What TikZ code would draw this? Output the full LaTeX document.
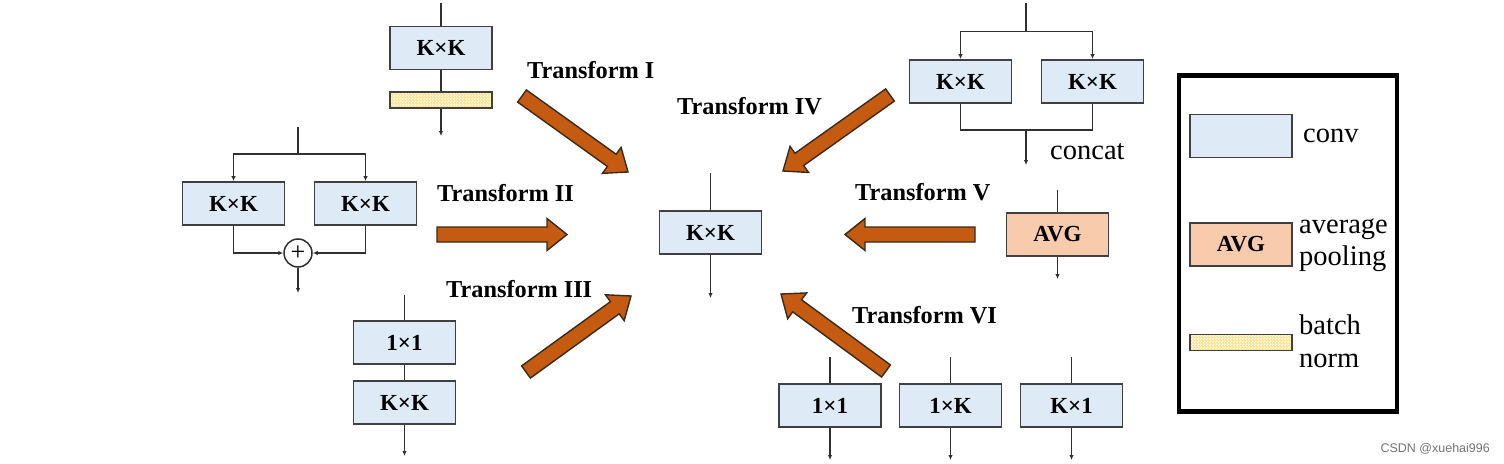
\documentclass[tikz,border=0pt]{standalone}
\usepackage{fontspec}
\setmainfont{Liberation Serif}
\newfontfamily\wmfont{Liberation Sans}
\usetikzlibrary{calc,patterns,arrows.meta}
\definecolor{convfill}{HTML}{DEEBF7}
\definecolor{boxline}{HTML}{404040}
\definecolor{avgfill}{HTML}{F8CBAD}
\definecolor{bnfill}{HTML}{FFE38A}
\definecolor{fatfill}{HTML}{C55A11}
\definecolor{fatline}{HTML}{3A2A1A}
\definecolor{flowline}{HTML}{303030}
\pgfdeclarepatternformonly[\tikzfinecheckcolor]{finecheck}{\pgfpointorigin}{\pgfqpoint{3pt}{3pt}}{\pgfqpoint{3pt}{3pt}}{%
  \pgfpathrectangle{\pgfpointorigin}{\pgfqpoint{1.5pt}{1.5pt}}%
  \pgfpathrectangle{\pgfqpoint{1.5pt}{1.5pt}}{\pgfqpoint{1.5pt}{1.5pt}}%
  \pgfusepath{fill}}
\newcommand\tikzfinecheckcolor{white}
\tikzset{
  conv/.style={draw=boxline, line width=1.8, fill=convfill, minimum width=102, minimum height=43, inner sep=0, font=\fontsize{23}{23}\selectfont\bfseries},
  avgbox/.style={conv, fill=avgfill},
  bnbox/.style={draw=boxline, line width=1.5, preaction={fill=bnfill}, pattern=finecheck, pattern color=white, minimum width=102, minimum height=16, inner sep=0},
  flow/.style={draw=flowline, line width=1.6},
  flowarr/.style={flow, -{Latex[length=5,width=4.5]}},
  fatstyle/.style={draw=fatline, line width=1.4, fill=fatfill, line join=miter},
  tlabel/.style={anchor=base west, inner sep=0, font=\fontsize{24.3}{24.3}\selectfont\bfseries},
  llabel/.style={anchor=base west, inner sep=0, font=\fontsize{28.5}{28.5}\selectfont},
}
\newcommand\fatarrow[2]{%
  \coordinate (fa-c) at ($(#2)!20pt!(#1)$);
  \draw[fatstyle] ($(#1)!7.5pt!90:(#2)$) -- ($(fa-c)!7.5pt!90:(#2)$) -- ($(fa-c)!16pt!90:(#2)$) -- (#2) -- ($(fa-c)!16pt!-90:(#2)$) -- ($(fa-c)!7.5pt!-90:(#2)$) -- ($(#1)!7.5pt!-90:(#2)$) -- cycle;}
\begin{document}
\begin{tikzpicture}[x=1pt,y=-1pt]
\useasboundingbox (0,0) rectangle (1504,463);
% Block I
\node[conv] (c1) at (441,48) {K×K};
\node[bnbox] (bn1) at (441,100) {};
\coordinate (i1) at (441,3);
\coordinate (o1) at (441,136);
\draw[flow] (i1) -- (c1);
\draw[flow] (c1) -- (bn1);
\draw[flowarr] (bn1) -- (o1);
% Block II
\node[conv] (c2a) at (233.5,203.5) {K×K};
\node[conv] (c2b) at (365.5,203.5) {K×K};
\node[circle, draw=flowline, line width=1.5, fill=white, minimum size=28, inner sep=0, font=\fontsize{26}{26}\selectfont] (plus) at (298,253) {+};
\coordinate (i2) at (298,127);
\coordinate (s2) at (298,154);
\coordinate (o2) at (298,293);
\draw[flow] (i2) -- (s2);
\draw[flowarr] (s2) -| (c2a);
\draw[flowarr] (s2) -| (c2b);
\draw[flowarr] (c2a) |- (plus);
\draw[flowarr] (c2b) |- (plus);
\draw[flowarr] (plus) -- (o2);
% Block III
\node[conv] (c3a) at (404.5,342.5) {1×1};
\node[conv] (c3b) at (404.5,402.5) {K×K};
\coordinate (i3) at (404.5,295);
\coordinate (o3) at (404.5,456);
\draw[flow] (i3) -- (c3a);
\draw[flow] (c3a) -- (c3b);
\draw[flowarr] (c3b) -- (o3);
% Centre
\node[conv] (cc) at (710.5,232.5) {K×K};
\coordinate (ic) at (710.5,173);
\coordinate (oc) at (710.5,298);
\draw[flow] (ic) -- (cc);
\draw[flowarr] (cc) -- (oc);
% Block IV
\node[conv] (c4a) at (960.5,81.5) {K×K};
\node[conv] (c4b) at (1092.5,81.5) {K×K};
\coordinate (i4) at (1026,3);
\coordinate (s4) at (1026,31.5);
\coordinate (m4) at (1026,130);
\coordinate (o4) at (1026,165);
\draw[flow] (i4) -- (s4);
\draw[flowarr] (s4) -| (c4a);
\draw[flowarr] (s4) -| (c4b);
\draw[flow] (c4a) |- (m4) -| (c4b);
\draw[flowarr] (m4) -- (o4);
\node[llabel] (concat) at (1050,159) {concat};
% AVG
\node[avgbox] (avg) at (1057.5,234.5) {AVG};
\coordinate (i5) at (1057.5,190);
\coordinate (o5) at (1057.5,279);
\draw[flow] (i5) -- (avg);
\draw[flowarr] (avg) -- (o5);
% Block VI
\node[conv] (c6a) at (830,405.5) {1×1};
\node[conv] (c6b) at (950.5,405.5) {1×K};
\node[conv] (c6c) at (1071.5,405.5) {K×1};
\foreach \n/\x in {c6a/830,c6b/950.5,c6c/1071.5}{
  \coordinate (\n-i) at (\x,357);
  \coordinate (\n-o) at (\x,460);
  \draw[flow] (\n-i) -- (\n);
  \draw[flowarr] (\n) -- (\n-o);
}
% Transform labels
\node[tlabel] (t1) at (527,78) {Transform I};
\node[tlabel] (t2) at (437,201) {Transform II};
\node[tlabel] (t3) at (446,297) {Transform III};
\node[tlabel] (t4) at (677,114) {Transform IV};
\node[tlabel] (t5) at (855,200) {Transform V};
\node[tlabel] (t6) at (852,323) {Transform VI};
% Fat arrows
\coordinate (f1a) at (522,96);  \coordinate (f1b) at (628,172);
\coordinate (f2a) at (437,234.5); \coordinate (f2b) at (567,234.5);
\coordinate (f3a) at (526,372); \coordinate (f3b) at (631,296);
\coordinate (f4a) at (890,95);  \coordinate (f4b) at (783,171);
\coordinate (f5a) at (975,234.5); \coordinate (f5b) at (845,234.5);
\coordinate (f6a) at (886,371); \coordinate (f6b) at (781,294);
\fatarrow{f1a}{f1b}
\fatarrow{f2a}{f2b}
\fatarrow{f3a}{f3b}
\fatarrow{f4a}{f4b}
\fatarrow{f5a}{f5b}
\fatarrow{f6a}{f6b}
% Legend
\node[draw=black, line width=4.5, minimum width=218, minimum height=336, inner sep=0] (legend) at (1288,243.5) {};
\node[conv] (lconv) at (1241,136) {};
\node[llabel] (lconvt) at (1303,142) {conv};
\node[avgbox] (lavg) at (1241,244.5) {AVG};
\node[llabel] (lavgt1) at (1299,233) {average};
\node[llabel] (lavgt2) at (1299,265) {pooling};
\node[bnbox] (lbn) at (1241,342.5) {};
\node[llabel] (lbnt1) at (1299,334) {batch};
\node[llabel] (lbnt2) at (1299,367) {norm};
% Watermark
\node[anchor=base east, inner sep=0, text=black!55, font=\wmfont\fontsize{12.5}{12.5}\selectfont] (wm) at (1490,452) {CSDN @xuehai996};
\end{tikzpicture}
\end{document}
